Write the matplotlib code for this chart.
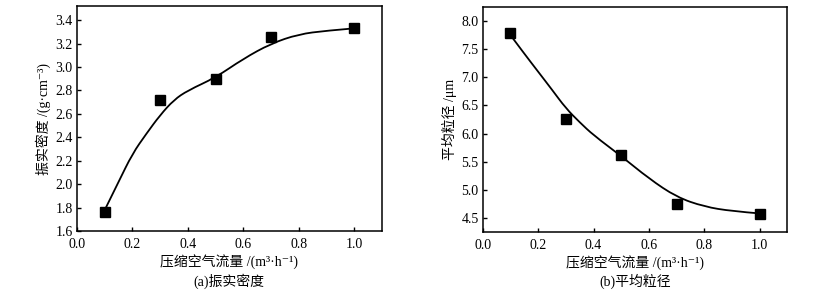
import numpy as np
import matplotlib
matplotlib.use('Agg')
import matplotlib.pyplot as plt
from matplotlib.path import Path
from matplotlib.patches import PathPatch

plt.rcParams['font.family'] = ['Liberation Serif', 'Noto Sans CJK SC', 'DejaVu Serif']

# measured points
flow = [0.1, 0.3, 0.5, 0.7, 1.0]
tap_density = [1.76, 2.72, 2.90, 3.26, 3.33]
particle_size = [7.78, 6.25, 5.62, 4.75, 4.57]

# fitted curves
curve_x = [0.1, 0.15, 0.2, 0.25, 0.3, 0.35, 0.4, 0.5, 0.6, 0.7, 0.8, 0.9, 1.0]
curve_density = [1.78, 2.02, 2.26, 2.43, 2.59, 2.72, 2.80, 2.91, 3.07, 3.20, 3.28, 3.31, 3.33]
curve_size = [7.75, 7.42, 7.10, 6.78, 6.45, 6.20, 5.97, 5.60, 5.20, 4.87, 4.70, 4.62, 4.58]

xlabel = '压缩空气流量 /(m³·h⁻¹)'


def smooth_path(xs, ys):
    # quadratic bezier through midpoints, read points used as control points
    pts = list(zip(xs, ys))
    verts = [pts[0]]
    codes = [Path.MOVETO]
    for i in range(1, len(pts) - 1):
        mid = ((pts[i][0] + pts[i + 1][0]) / 2, (pts[i][1] + pts[i + 1][1]) / 2)
        if i == len(pts) - 2:
            mid = pts[-1]
        verts += [pts[i], mid]
        codes += [Path.CURVE3, Path.CURVE3]
    return Path(verts, codes)


def style_axes(ax):
    for s in ax.spines.values():
        s.set_linewidth(1.1)
    ax.tick_params(direction='in', length=3, width=1, labelsize=10, top=False, right=False)
    ax.tick_params(axis='x', pad=5)
    ax.tick_params(axis='y', pad=3)
    ax.set_xlim(0, 1.1)
    ax.set_xticks([0.0, 0.2, 0.4, 0.6, 0.8, 1.0])
    ax.set_xticklabels(['0.0', '0.2', '0.4', '0.6', '0.8', '1.0'])
    ax.set_xlabel(xlabel, fontsize=10, labelpad=2)


fig = plt.figure(figsize=(8.28, 2.9), dpi=100)
ax1 = fig.add_axes([0.093, 0.203, 0.368, 0.776])
ax2 = fig.add_axes([0.583, 0.200, 0.368, 0.776])

# (a)
ax1.add_patch(PathPatch(smooth_path(curve_x, curve_density), fill=False, lw=1.3, color='black'))
ax1.plot(flow, tap_density, 's', color='black', ms=6.5)
style_axes(ax1)
ax1.set_ylim(1.6, 3.52)
ax1.set_yticks(np.arange(1.6, 3.41, 0.2))
ax1.set_yticklabels([f'{v:.1f}' for v in np.arange(1.6, 3.41, 0.2)])
ax1.set_ylabel('振实密度 /(g·cm⁻³)', fontsize=10, labelpad=3)
fig.text(0.277, 0.015, '(a)振实密度', ha='center', fontsize=10)

# (b)
ax2.add_patch(PathPatch(smooth_path(curve_x, curve_size), fill=False, lw=1.3, color='black'))
ax2.plot(flow, particle_size, 's', color='black', ms=6.5)
style_axes(ax2)
ax2.set_ylim(4.25, 8.25)
ax2.set_yticks(np.arange(4.5, 8.01, 0.5))
ax2.set_yticklabels([f'{v:.1f}' for v in np.arange(4.5, 8.01, 0.5)])
ax2.set_ylabel('平均粒径 /μm', fontsize=10, labelpad=3)
fig.text(0.767, 0.015, '(b)平均粒径', ha='center', fontsize=10)

fig.savefig('out.png', dpi=100)
